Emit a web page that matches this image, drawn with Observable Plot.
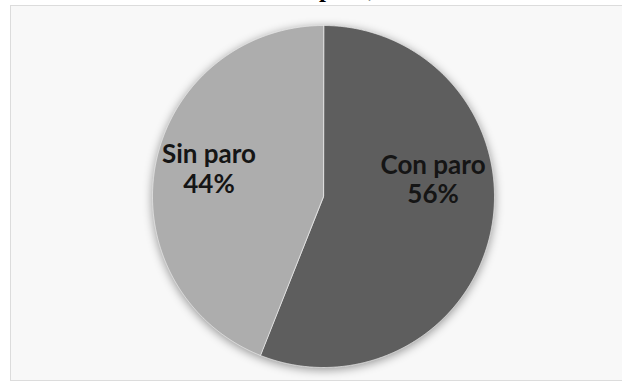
<!DOCTYPE html>
<html><head><meta charset="utf-8">
<script src="https://cdn.jsdelivr.net/npm/d3@7"></script>
<script src="https://cdn.jsdelivr.net/npm/@observablehq/plot@0.6"></script>
<style>
html,body{margin:0;padding:0;background:#fff;width:622px;height:383px;overflow:hidden;}
#wrap{position:relative;width:622px;height:383px;}
#panel{position:absolute;left:10px;top:5px;width:620px;height:376px;background:#f8f8f8;border:1px solid #dcdcdc;box-sizing:border-box;}
#title{position:absolute;left:319px;top:-24px;font:bold 25px "Liberation Serif",serif;color:#000;white-space:nowrap;line-height:25px;}
#chart{position:absolute;left:0;top:0;}
</style></head>
<body><div id="wrap"><div id="panel"></div><div id="title">paro,</div><div id="chart"></div></div>
<script>
const categories = ["Con paro", "Sin paro"];
const values = [56, 44];
const colors = ["#5e5e5e", "#adadad"];

const arcs = d3.pie().sort(null).value(d => d.value)(categories.map((c, i) => ({label: c, value: values[i]})));
const toXY = a => [Math.sin(a), Math.cos(a)];
const features = arcs.map(a => {
  const ring = [[0, 0]];
  const n = Math.max(2, Math.ceil((a.endAngle - a.startAngle) / 0.005));
  for (let k = 0; k <= n; k++) ring.push(toXY(a.startAngle + (a.endAngle - a.startAngle) * k / n));
  ring.push([0, 0]);
  return {type: "Feature", properties: {label: a.data.label, value: a.data.value}, geometry: {type: "Polygon", coordinates: [ring]}};
});
const labels = arcs.map(a => {
  const m = (a.startAngle + a.endAngle) / 2;
  const [x, y] = toXY(m);
  return {label: a.data.label, text: `${a.data.label}\n${a.data.value}%`, x: x * 0.67, y: y * 0.67};
});
const outline = {type: "MultiPoint", coordinates: [[-1, -1], [1, 1]]};

const textOpts = {x: "x", y: "y", text: "text", fontFamily: "Lato", fontWeight: "bold", fontSize: 26, lineHeight: 1.15, fill: "#151515", textAnchor: "middle", lineAnchor: "middle"};

const chart = Plot.plot({
  width: 622, height: 383,
  marginLeft: 152, marginRight: 128, marginTop: 25, marginBottom: 16,
  projection: {type: "reflect-y", domain: outline},
  color: {domain: categories, range: colors},
  style: {background: "transparent", overflow: "visible"},
  marks: [
    Plot.geo(features, {fill: d => d.properties.label, stroke: "#e8e8e8", strokeWidth: 0.8}),
    Plot.text(labels.filter(d => d.label === "Sin paro"), {...textOpts, dx: -2, dy: -7}),
    Plot.text(labels.filter(d => d.label === "Con paro"), {...textOpts, dx: -3, dy: -39})
  ]
});
const g = chart.querySelector('g[aria-label="geo"]');
if (g) g.style.filter = "drop-shadow(0px 2px 5px rgba(0,0,0,0.4))";
document.getElementById("chart").appendChild(chart);
</script>
</body></html>
